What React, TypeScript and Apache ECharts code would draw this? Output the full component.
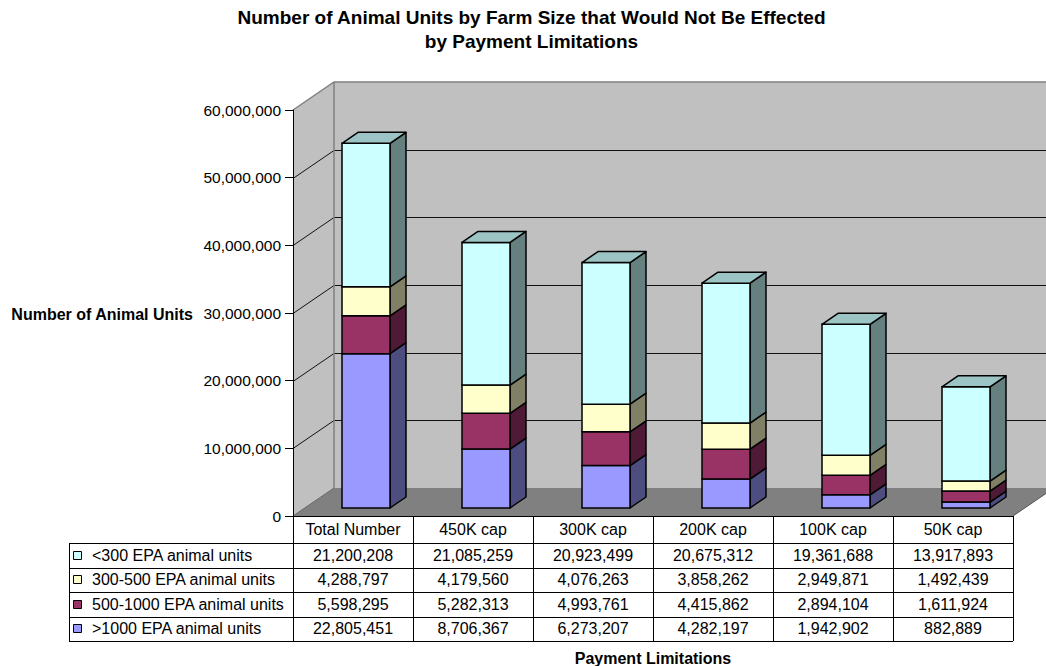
import React, { useEffect, useRef } from 'react';
import * as echarts from 'echarts';

// ---------------- data ----------------
const titleLines = ['Number of Animal Units by Farm Size that Would Not Be Effected', 'by Payment Limitations'];
const yAxisTitle = 'Number of Animal Units';
const xAxisTitle = 'Payment Limitations';
const categories = ['Total Number', '450K cap', '300K cap', '200K cap', '100K cap', '50K cap'];
const seriesNames = ['<300 EPA animal units', '300-500 EPA animal units', '500-1000 EPA animal units', '>1000 EPA animal units'];
const under300 = [21200208, 21085259, 20923499, 20675312, 19361688, 13917893];
const from300to500 = [4288797, 4179560, 4076263, 3858262, 2949871, 1492439];
const from500to1000 = [5598295, 5282313, 4993761, 4415862, 2894104, 1611924];
const over1000 = [22805451, 8706367, 6273207, 4282197, 1942902, 882889];
const yTicks = [0, 10000000, 20000000, 30000000, 40000000, 50000000, 60000000];

// table rows (top to bottom) and stack order (bottom to top)
const tableRows = [under300, from300to500, from500to1000, over1000];
const stackOrder = [over1000, from500to1000, from300to500, under300];
const keyColors = ['#CCFFFF', '#FFFFCC', '#993366', '#9999FF'];
const faceColors = ['#9999FF', '#993366', '#FFFFCC', '#CCFFFF'];
const sideColors = ['#4D4D80', '#4F1A35', '#808066', '#668080'];
const topColors = ['#7A7ACC', '#7A2952', '#CCCCA3', '#9CC4C4'];

// ---------------- layout ----------------
const W = 1046, H = 666;
const GL = 293, GT = 110, GR = 1013, GB = 516;
const DX = 41, DY = -28;       // wall depth
const BX = 13, BY = -8;        // bar placement inside depth
const BDX = 16, BDY = -11;     // bar depth
const ROW_TOP = 543, ROW_H = 24.5;
const TABLE_LEFT = 69;
const FONT = "'Liberation Sans', Arial, Helvetica, sans-serif";

const fmt = (v: number) => String(Math.round(v)).replace(/\B(?=(\d{3})+(?!\d))/g, ',');

export default function App() {
  const ref = useRef<HTMLDivElement>(null);
  useEffect(() => {
    document.body.style.margin = '0';
    const chart = echarts.init(ref.current!, null, { renderer: 'svg' });

    const rowCenter = (r: number) => ROW_TOP + ROW_H * (r + 0.5);

    const tableAxes = tableRows.map((arr, r) => ({
      type: 'category',
      gridIndex: 0,
      position: 'bottom',
      offset: rowCenter(r) - GB,
      data: categories,
      boundaryGap: true,
      axisLine: { show: false },
      axisTick: { show: false },
      splitLine: { show: false },
      axisLabel: {
        interval: 0,
        margin: 0,
        verticalAlign: 'middle',
        color: '#000',
        fontSize: 16,
        fontFamily: FONT,
        formatter: (_v: string, idx: number) => fmt(arr[idx]),
      },
    }));

    const graphics: any[] = [];
    titleLines.forEach((t, i) => {
      graphics.push({
        type: 'text', x: 531.5, y: 17 + i * 24, z: 100,
        style: { text: t, fill: '#000', font: `bold 19px ${FONT}`, textAlign: 'center', textVerticalAlign: 'middle', align: 'center', verticalAlign: 'middle' },
      });
    });
    graphics.push({
      type: 'text', x: 193, y: (GT + GB) / 2 + 1, z: 100,
      style: { text: yAxisTitle, fill: '#000', font: `bold 16px ${FONT}`, textAlign: 'right', textVerticalAlign: 'middle', align: 'right', verticalAlign: 'middle' },
    });
    graphics.push({
      type: 'text', x: (GL + GR) / 2, y: 658, z: 100,
      style: { text: xAxisTitle, fill: '#000', font: `bold 16px ${FONT}`, textAlign: 'center', textVerticalAlign: 'middle', align: 'center', verticalAlign: 'middle' },
    });
    // table lines
    graphics.push({ type: 'line', z: 100, shape: { x1: GL, y1: GB + 0.5, x2: GR, y2: GB + 0.5 }, style: { stroke: '#000', lineWidth: 1 } });
    for (let r = 0; r <= tableRows.length; r++) {
      const y = Math.round(ROW_TOP + r * ROW_H) + 0.5;
      graphics.push({ type: 'line', z: 100, shape: { x1: TABLE_LEFT, y1: y, x2: GR, y2: y }, style: { stroke: '#000', lineWidth: 1 } });
    }
    graphics.push({ type: 'line', z: 100, shape: { x1: TABLE_LEFT + 0.5, y1: ROW_TOP, x2: TABLE_LEFT + 0.5, y2: ROW_TOP + ROW_H * tableRows.length }, style: { stroke: '#000', lineWidth: 1 } });
    // legend keys in the table
    seriesNames.forEach((name, r) => {
      const cy = rowCenter(r);
      graphics.push({ type: 'rect', z: 100, shape: { x: 73.5, y: Math.round(cy - 4.5) + 0.5, width: 8, height: 8 }, style: { fill: keyColors[r], stroke: '#000', lineWidth: 1 } });
      graphics.push({
        type: 'text', x: 92, y: cy, z: 100,
        style: { text: name, fill: '#000', font: `16px ${FONT}`, textAlign: 'left', textVerticalAlign: 'middle', align: 'left', verticalAlign: 'middle' },
      });
    });

    const option: any = {
      animation: false,
      grid: { left: GL, top: GT, right: W - GR, bottom: H - GB, containLabel: false, outerBoundsMode: 'none' },
      xAxis: [
        {
          type: 'category',
          gridIndex: 0,
          position: 'bottom',
          data: categories,
          boundaryGap: true,
          z: 10,
          axisLine: { show: false },
          axisTick: { show: true, interval: 0, length: ROW_TOP + ROW_H * tableRows.length - GB, lineStyle: { color: '#000', width: 1 } },
          splitLine: { show: false },
          axisLabel: { interval: 0, margin: (ROW_TOP - GB) / 2, verticalAlign: 'middle', color: '#000', fontSize: 16, fontFamily: FONT },
        },
        ...tableAxes,
      ],
      yAxis: {
        type: 'value',
        min: yTicks[0],
        max: yTicks[yTicks.length - 1],
        interval: yTicks[1] - yTicks[0],
        position: 'left',
        z: 10,
        axisLine: { show: true, lineStyle: { color: '#000', width: 1 } },
        axisTick: { show: true, length: 8, inside: false, lineStyle: { color: '#000', width: 1 } },
        splitLine: { show: false },
        axisLabel: { margin: 12, color: '#000', fontSize: 15.5, fontFamily: FONT, formatter: (v: number) => fmt(v) },
      },
      graphic: graphics,
      series: [
        {
          type: 'custom',
          name: 'walls',
          z: 1,
          clip: false,
          silent: true,
          data: [[0, 0]],
          renderItem: (params: any, api: any) => {
            const cs = params.coordSys;
            const xL = cs.x, xR = cs.x + cs.width;
            const y0 = api.coord([0, yTicks[0]])[1];
            const yT = api.coord([0, yTicks[yTicks.length - 1]])[1];
            const children: any[] = [
              { type: 'polygon', shape: { points: [[xL, y0], [xL, yT], [xL + DX, yT + DY], [xL + DX, y0 + DY]] }, style: { fill: '#C0C0C0' } },
              { type: 'rect', shape: { x: xL + DX, y: yT + DY, width: xR - xL, height: y0 - yT }, style: { fill: '#C0C0C0' } },
              { type: 'polygon', shape: { points: [[xL, y0], [xR, y0], [xR + DX, y0 + DY], [xL + DX, y0 + DY]] }, style: { fill: '#808080' } },
            ];
            yTicks.slice(1, -1).forEach((t) => {
              const y = Math.round(api.coord([0, t])[1]) + 0.5;
              children.push({ type: 'polyline', shape: { points: [[xL, y], [xL + DX, y + DY], [xR + DX + 10, y + DY]] }, style: { stroke: '#111', lineWidth: 1, fill: null } });
            });
            children.push({ type: 'polyline', shape: { points: [[xL, yT], [xL + DX, yT + DY], [xR + DX + 10, yT + DY]] }, style: { stroke: '#808080', lineWidth: 1.5, fill: null } });
            children.push({ type: 'line', shape: { x1: xL + DX, y1: yT + DY, x2: xL + DX, y2: y0 + DY }, style: { stroke: '#808080', lineWidth: 1.5 } });
            children.push({ type: 'line', shape: { x1: xL, y1: y0, x2: xL + DX, y2: y0 + DY }, style: { stroke: '#666', lineWidth: 1 } });
            children.push({ type: 'line', shape: { x1: xR, y1: y0, x2: xR + DX, y2: y0 + DY }, style: { stroke: '#555', lineWidth: 1 } });
            return { type: 'group', children };
          },
        },
        {
          type: 'custom',
          name: 'bars',
          z: 2,
          clip: false,
          encode: { x: 0, y: [1, 2, 3, 4] },
          data: categories.map((_c, i) => [i, ...stackOrder.map((a) => a[i])]),
          renderItem: (_params: any, api: any) => {
            const i = api.value(0);
            const cx = api.coord([i, 0])[0];
            const w = api.size([1, 0])[0] * 0.4;
            const xl = cx - w / 2 + BX;
            const xr = xl + w;
            let cum = 0;
            const children: any[] = [];
            for (let k = 0; k < stackOrder.length; k++) {
              const v = api.value(k + 1);
              const yb = api.coord([i, cum])[1] + BY;
              cum += v;
              const yt = api.coord([i, cum])[1] + BY;
              children.push({
                type: 'polygon',
                shape: { points: [[xr, yb], [xr, yt], [xr + BDX, yt + BDY], [xr + BDX, yb + BDY]] },
                style: { fill: sideColors[k], stroke: '#000', lineWidth: 1.5, lineJoin: 'round' },
              });
              children.push({
                type: 'rect',
                shape: { x: xl, y: yt, width: w, height: yb - yt },
                style: { fill: faceColors[k], stroke: '#000', lineWidth: 1.5 },
              });
              if (k === stackOrder.length - 1) {
                children.push({
                  type: 'polygon',
                  shape: { points: [[xl, yt], [xl + BDX, yt + BDY], [xr + BDX, yt + BDY], [xr, yt]] },
                  style: { fill: topColors[k], stroke: '#000', lineWidth: 1.5, lineJoin: 'round' },
                });
              }
            }
            return { type: 'group', children };
          },
        },
      ],
    };
    chart.setOption(option);
    return () => chart.dispose();
  }, []);
  return <div ref={ref} style={{ width: W, height: H }} />;
}
